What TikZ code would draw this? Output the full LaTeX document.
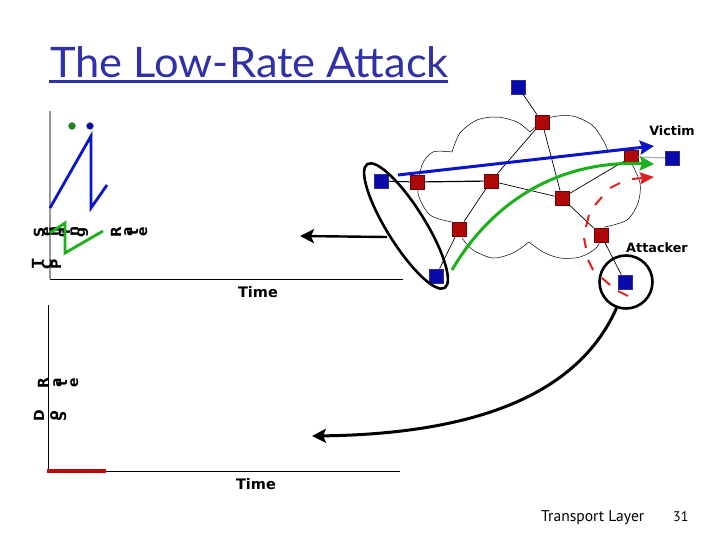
\documentclass[tikz,border=0pt]{standalone}
\usepackage{fontspec}
\setmainfont{Lato}
\newfontfamily\labelfont{DejaVu Sans}
\newfontfamily\footfont{PT Sans}
\usetikzlibrary{arrows.meta}
\definecolor{hostblue}{HTML}{0A0AA8}
\definecolor{routerred}{HTML}{B00808}
\definecolor{flowblue}{HTML}{0A14C8}
\definecolor{flowgreen}{HTML}{1CB01C}
\definecolor{flowred}{HTML}{E02020}
\definecolor{titleblue}{HTML}{3030A8}
\tikzset{
  host/.style={draw=hostblue!70!gray,fill=hostblue,line width=0.6pt,minimum size=14pt,inner sep=0pt},
  router/.style={draw=routerred!60!black,fill=routerred,line width=0.8pt,minimum size=14pt,inner sep=0pt},
  link/.style={black,line width=0.7pt},
  cloudline/.style={black,line width=0.5pt},
  axis/.style={black,line width=1pt},
  boldlabel/.style={font=\labelfont\bfseries\fontsize{12.8}{14}\selectfont,inner sep=0pt},
  timelabel/.style={font=\labelfont\bfseries\fontsize{14.5}{16}\selectfont,inner sep=0pt},
  vletter/.style={font=\labelfont\bfseries\fontsize{14}{15}\selectfont,inner sep=0pt,rotate=90,anchor=base},
  footer/.style={font=\footfont\fontsize{15.6}{17}\selectfont,inner sep=0pt,anchor=base west},
  thickarrow/.style={-{Stealth[length=14pt,width=14pt,inset=2pt]},line width=3pt},
  blackarrow/.style={-{Stealth[length=14pt,width=14pt,inset=3pt]},black,line width=3pt},
}
\begin{document}
\begin{tikzpicture}[x=1pt,y=-1pt]
\useasboundingbox (0,0) rectangle (720,540);
\fill[white] (0,0) rectangle (720,540);

% title
\node[font=\fontsize{42}{46}\selectfont,text=titleblue,inner sep=0pt,anchor=base west,xscale=1.034] (title) at (50,78) {The Low-Rate Attack};
\coordinate (ulStart) at (49,82);
\coordinate (ulEnd) at (448,82);
\draw[titleblue,line width=3pt] (ulStart) -- (ulEnd);

% cloud
\draw[cloudline] plot[smooth] coordinates {(452,222)(430,215)(418,193)(422,165)(433,152)(452,152)};
\draw[cloudline] plot[smooth] coordinates {(452,152)(460,133)(477,120)(497,117)(517,122)(530,132)};
\draw[cloudline] plot[smooth] coordinates {(530,132)(548,118)(572,116)(592,125)(603,140)(608,151)};
\draw[cloudline] plot[smooth] coordinates {(630,160)(640,183)(638,203)(627,220)(605,227)};
\draw[cloudline] plot[smooth] coordinates {(605,227)(597,247)(580,257)(560,258)(543,252)(529,242)};
\draw[cloudline] plot[smooth] coordinates {(529,242)(513,253)(493,258)(473,250)(462,238)};

% network
\node[host] (hTop) at (518,87) {};
\node[host] (hVictim) at (672,158) {};
\node[host] (hLeft) at (381,181) {};
\node[host] (hLow) at (436,276) {};
\node[host] (hAtt) at (625,282) {};
\node[router] (r1) at (542,122) {};
\node[router] (r2) at (631,157) {};
\node[router] (r3) at (417,182) {};
\node[router] (r4) at (491,181) {};
\node[router] (r5) at (562,198) {};
\node[router] (r6) at (459,229) {};
\node[router] (r7) at (601,235) {};
\draw[link] (hTop) -- (r1);
\draw[link] (r1) -- (r4);
\draw[link] (r1) -- (r5);
\draw[link,line width=1pt] (hLeft) -- (r3);
\draw[link,line width=1.2pt] (r3) -- (r4);
\draw[link] (r4) -- (r5);
\draw[link] (r4) -- (r6);
\draw[link] (r5) -- (r2);
\draw[link] (r5) -- (r7);
\draw[link] (r7) -- (hAtt);
\draw[link] (r6) -- (hLow);
\draw[gray!60,line width=1.4pt] (r2) -- (hVictim);

\node[boldlabel] (victim) at (672,131) {Victim};
\node[boldlabel] (attacker) at (657,248) {Attacker};

% axes
\coordinate (ax1t) at (50,111);
\coordinate (ax1o) at (50,279);
\coordinate (ax1e) at (403,279);
\draw[gray!80,line width=1.5pt] (ax1t) -- (ax1o);
\draw[axis] (ax1o) -- (ax1e);
\coordinate (ax2t) at (48,305);
\coordinate (ax2o) at (48,471);
\coordinate (ax2e) at (400,471);
\draw[axis] (ax2t) -- (ax2o) -- (ax2e);
\coordinate (redstart) at (47,471);
\coordinate (redend) at (106,471);
\draw[routerred!80!flowred,line width=3.2pt] (redstart) -- (redend);
\node[timelabel] (time1) at (258,292) {Time};
\node[timelabel] (time2) at (256,484) {Time};

% rotated, separately placed letters
\foreach \ch/\px [count=\i] in {S/44,e/51,n/58,d/66,i/70,n/78,g/85,R/121,a/132,t/138,e/147}
  \node[vletter] (send\i) at (\px,232) {\ch};
\foreach \ch/\px [count=\i] in {T/42,C/52,P/61}
  \node[vletter] (tcp\i) at (\px,264) {\ch};
\foreach \ch/\px [count=\i] in {R/48,a/61,t/67,e/78}
  \node[vletter] (rate\i) at (\px,383) {\ch};
\foreach \ch/\px [count=\i] in {D/44,o/58,S/66}
  \node[vletter] (dos\i) at (\px,416) {\ch};

% plots
\draw[flowblue,line width=2.8pt,line join=miter] (50,208) -- (91,136) -- (91,208) -- (107,185);
\draw[flowgreen,line width=2.8pt,line join=miter] (50,233) -- (65,223) -- (65,253) -- (103,231);
\node[circle,fill=flowgreen!80!black,draw=black!60,line width=0.4pt,minimum size=7pt,inner sep=0pt] (dotg) at (72,126) {};
\node[circle,fill=hostblue,draw=black!60,line width=0.4pt,minimum size=7pt,inner sep=0pt] (dotb) at (90,126) {};

% flows
\coordinate (bs) at (398,175);
\coordinate (be) at (654,146);
\draw[thickarrow,flowblue] (bs) -- (be);
\coordinate (gs) at (452,270);
\coordinate (ge) at (654,164);
\draw[thickarrow,flowgreen] (gs) .. controls (490,205) and (555,160) .. (ge);
\coordinate (rs) at (628,296);
\coordinate (re) at (654,177);
\draw[flowred,line width=2pt] (rs) -- (618,291) (610,285) -- (602,278) (593,270) -- (588,260)
  (586,248) -- (584,238) (586,227) -- (589,215) (595,205) -- (602,197) (610,188) -- (620,183);
\draw[-{Stealth[length=14pt,width=12pt,inset=2pt]},flowred,line width=2pt] (632,179) -- (re);

% grouping shapes
\draw[black,line width=2.6pt,shift={(406,226)},rotate=-58] (0,0) ellipse (73pt and 19pt);
\node[circle,draw=black,line width=2.6pt,minimum size=53pt,inner sep=0pt] (attcircle) at (626,282) {};

% pointer arrows
\coordinate (pl) at (387,237);
\coordinate (pt) at (300,236);
\draw[blackarrow,line width=2.4pt] (pl) -- (pt);
\coordinate (qt) at (312,436);
\draw[blackarrow] (attcircle.250) .. controls (578,395) and (475,434) .. (qt);

% footer
\node[footer] (foot) at (541,521) {Transport Layer};
\node[footer,font=\footfont\fontsize{14}{15}\selectfont] (page) at (673,521) {31};
\end{tikzpicture}
\end{document}
